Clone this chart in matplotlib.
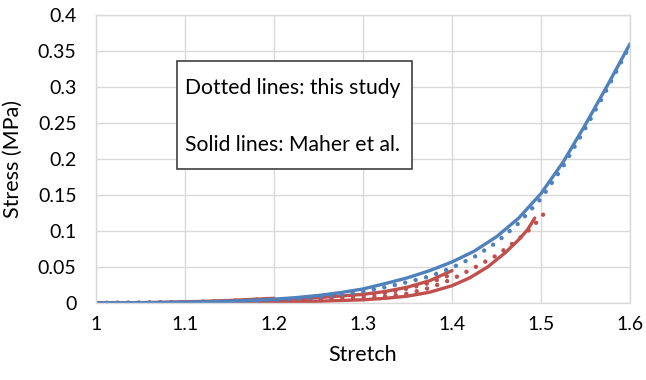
import matplotlib
matplotlib.use("Agg")
import matplotlib.pyplot as plt
from matplotlib.patches import Rectangle

# DATA
# blue curve (Maher et al. solid, this study dotted)
blue_x = [1.0, 1.025, 1.05, 1.075, 1.1, 1.125, 1.15, 1.175, 1.2, 1.225, 1.25, 1.275,
          1.3, 1.325, 1.35, 1.375, 1.4, 1.425, 1.45, 1.475, 1.5, 1.525, 1.55, 1.575, 1.6]
blue_solid = [0.0, 0.0002, 0.0004, 0.0007, 0.0011, 0.0017, 0.0025, 0.0037, 0.0053, 0.0075,
              0.0105, 0.0145, 0.0195, 0.027, 0.035, 0.045, 0.057, 0.072, 0.092, 0.118,
              0.152, 0.196, 0.248, 0.303, 0.360]
blue_dotted = [0.0, 0.0001, 0.0003, 0.0005, 0.0008, 0.0012, 0.0018, 0.0027, 0.0040, 0.0058,
               0.0082, 0.0115, 0.016, 0.022, 0.029, 0.037, 0.049, 0.064, 0.084, 0.111,
               0.145, 0.190, 0.243, 0.299, 0.358]

# red curves, three stretch levels
red_a_x = [1.0, 1.05, 1.1, 1.15, 1.2]
red_a_solid = [0.0, 0.0005, 0.0015, 0.0035, 0.0065]
red_a_dotted = [0.0, 0.0004, 0.0012, 0.003, 0.006]

red_b_x = [1.0, 1.05, 1.1, 1.15, 1.2, 1.25, 1.3, 1.325, 1.35, 1.375, 1.4]
red_b_solid = [0.0, 0.0002, 0.0008, 0.002, 0.0042, 0.0075, 0.012, 0.016, 0.022, 0.031, 0.045]
red_b_dotted = [0.0, 0.0002, 0.0007, 0.0017, 0.0035, 0.0063, 0.010, 0.014, 0.020, 0.028, 0.040]

red_c_x_solid = [1.0, 1.05, 1.1, 1.15, 1.2, 1.25, 1.3, 1.325, 1.35, 1.375, 1.4,
                 1.42, 1.44, 1.46, 1.475, 1.485, 1.493]
red_c_solid = [0.0, 0.0001, 0.0003, 0.0006, 0.0012, 0.0024, 0.0045, 0.0065, 0.0095, 0.015,
               0.024, 0.035, 0.05, 0.07, 0.088, 0.102, 0.118]
red_c_x_dotted = [1.0, 1.05, 1.1, 1.15, 1.2, 1.25, 1.3, 1.325, 1.35, 1.375, 1.4,
                  1.425, 1.45, 1.475, 1.49, 1.504]
red_c_dotted = [0.0, 0.0001, 0.0004, 0.0009, 0.0018, 0.0035, 0.0065, 0.009, 0.013, 0.021,
                0.033, 0.049, 0.066, 0.089, 0.105, 0.125]

x_ticks = [1, 1.1, 1.2, 1.3, 1.4, 1.5, 1.6]
x_labels = ['1', '1.1', '1.2', '1.3', '1.4', '1.5', '1.6']
y_ticks = [0, 0.05, 0.1, 0.15, 0.2, 0.25, 0.3, 0.35, 0.4]
y_labels = ['0', '0.05', '0.1', '0.15', '0.2', '0.25', '0.3', '0.35', '0.4']

# STYLE
plt.rcParams['font.family'] = ['Lato', 'DejaVu Sans']
blue = '#4F81BD'
red = '#C0504D'
grid_color = '#d9d9d9'

fig = plt.figure(figsize=(6.46, 3.8), dpi=100)
ax = fig.add_axes([96 / 646, 1 - 303 / 380, 534 / 646, 288 / 380])
ax.set(xlim=(1, 1.6), ylim=(0, 0.4))

solid_kw = dict(lw=2.4, solid_capstyle='round', solid_joinstyle='round')
dot_kw = dict(lw=3.2, dashes=(0.01, 2.4), dash_capstyle='round')

# red first so blue sits on top
ax.plot(red_a_x, red_a_solid, color=red, **solid_kw)
ax.plot(red_b_x, red_b_solid, color=red, **solid_kw)
ax.plot(red_c_x_solid, red_c_solid, color=red, **solid_kw)
ax.plot(red_a_x, red_a_dotted, color=red, **dot_kw)
ax.plot(red_b_x, red_b_dotted, color=red, **dot_kw)
ax.plot(red_c_x_dotted, red_c_dotted, color=red, **dot_kw)
ax.plot(blue_x, blue_solid, color=blue, **solid_kw)
ax.plot(blue_x, blue_dotted, color=blue, **dot_kw)

# grid and axes
ax.set_xticks(x_ticks)
ax.set_xticklabels(x_labels)
ax.set_yticks(y_ticks)
ax.set_yticklabels(y_labels)
ax.grid(True, color=grid_color, lw=1)
ax.set_axisbelow(True)
for s in ax.spines.values():
    s.set_color(grid_color)
    s.set_linewidth(1)
ax.tick_params(length=0, labelsize=14, colors='#000000')
ax.tick_params(axis='y', pad=14)
ax.tick_params(axis='x', pad=9)

fig.text(13 / 646, 1 - 159 / 380, 'Stress (MPa)', rotation=90, ha='center', va='center', fontsize=15.5)
fig.text(363 / 646, 1 - 355 / 380, 'Stretch', ha='center', va='center', fontsize=15.5)

# annotation box
ax.add_patch(Rectangle((0.152, 0.465), 0.44, 0.375, transform=ax.transAxes,
                       facecolor='white', edgecolor='#404040', lw=1.2, zorder=5))
ax.text(0.166, 0.747, 'Dotted lines: this study', transform=ax.transAxes,
        ha='left', va='center', fontsize=15.2, zorder=6)
ax.text(0.166, 0.549, 'Solid lines: Maher et al.', transform=ax.transAxes,
        ha='left', va='center', fontsize=15.2, zorder=6)

fig.savefig('out.png', dpi=100)
